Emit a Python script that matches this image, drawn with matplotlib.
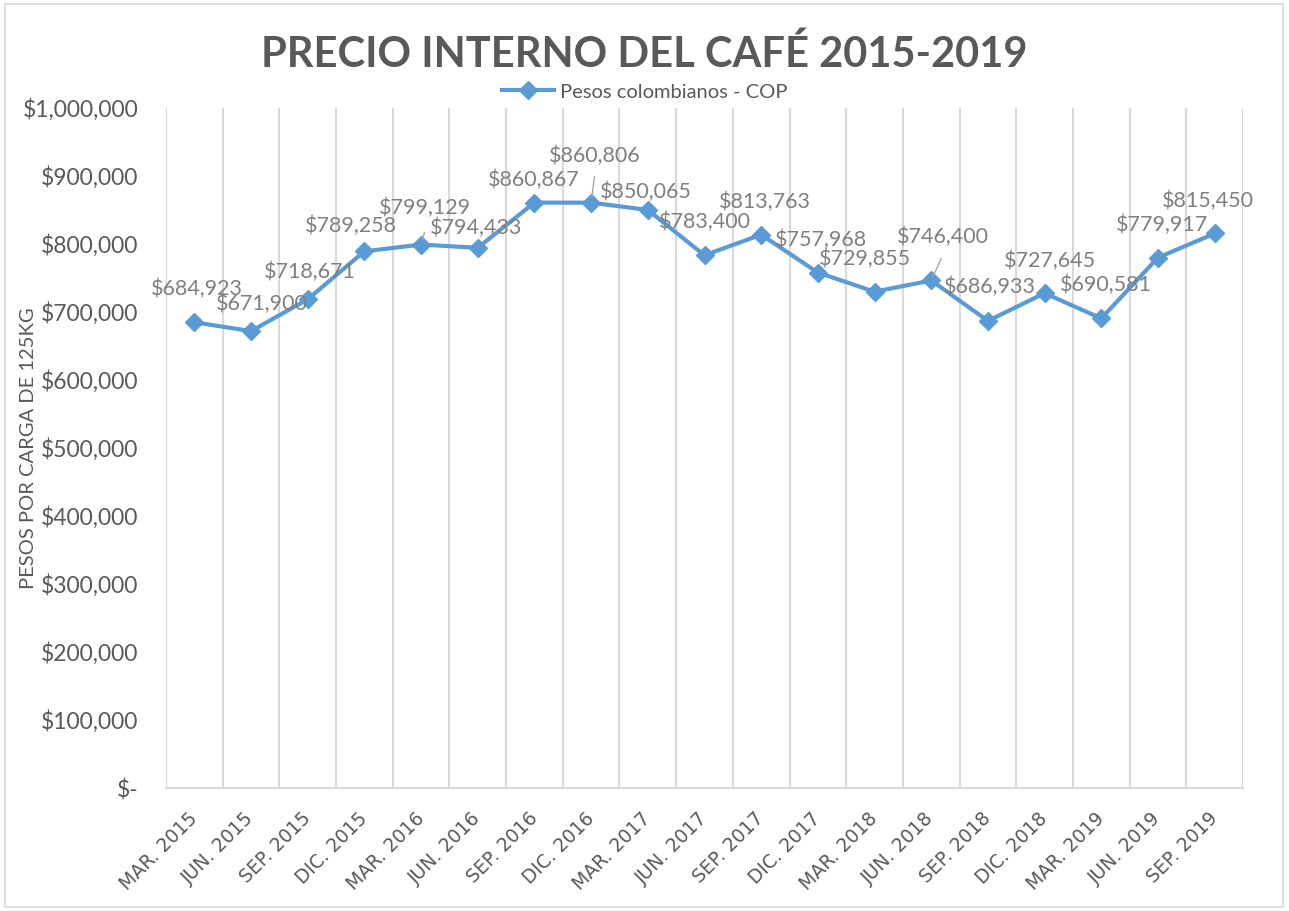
import matplotlib
matplotlib.use("Agg")
import matplotlib.pyplot as plt
from matplotlib.patches import Rectangle

# quarterly domestic coffee price, COP per 125 kg load
periodos = ["MAR. 2015", "JUN. 2015", "SEP. 2015", "DIC. 2015",
            "MAR. 2016", "JUN. 2016", "SEP. 2016", "DIC. 2016",
            "MAR. 2017", "JUN. 2017", "SEP. 2017", "DIC. 2017",
            "MAR. 2018", "JUN. 2018", "SEP. 2018", "DIC. 2018",
            "MAR. 2019", "JUN. 2019", "SEP. 2019"]
precio = [684923, 671900, 718671, 789258, 799129, 794433, 860867, 860806,
          850065, 783400, 813763, 757968, 729855, 746400, 686933, 727645,
          690581, 779917, 815450]
yticks = list(range(0, 1000001, 100000))

# label offsets in pixels (dx, dy upward), picked by eye
offs = [(3, 33), (11, 27), (2, 27), (-13, 25), (4, 37), (-2, 20), (-1, 23),
        (4, 47), (-2, 18), (0, 33), (4, 33), (3, 33), (-10, 33), (12, 44),
        (2, 34), (5, 32), (5, 34), (4, 33), (-7, 33)]
leaders = {4: 12, 7: 26, 13: 22}

azul = "#5B9BD5"
gris = "#595959"
grid = "#D9D9D9"
fam = ["Lato", "DejaVu Sans"]

fig = plt.figure(figsize=(12.89, 9.11), dpi=100)
ax = fig.add_axes([166 / 1289, 1 - 788 / 911, (1243 - 166) / 1289, (788 - 108) / 911])

x = list(range(len(precio)))
ax.plot(x, precio, color=azul, lw=3, marker="D", ms=9.5, zorder=3,
        label="Pesos colombianos - COP")

ax.set_xlim(-0.5, len(precio) - 0.5)
ax.set_ylim(0, 1000000)
ax.set_yticks(yticks)
ax.set_yticklabels(["$-" if v == 0 else "${:,}".format(v) for v in yticks],
                   fontsize=16.5, color=gris, family=fam)
ax.set_xticks(x)
ax.set_xticklabels(periodos, rotation=45, ha="right", va="center",
                   rotation_mode="anchor", fontsize=13.5, color=gris,
                   family=["DejaVu Sans"])
ax.set_xticks([i - 0.5 for i in range(len(precio) + 1)], minor=True)
ax.grid(True, which="minor", axis="x", color=grid, lw=1.5)
ax.tick_params(axis="both", which="both", length=0)
ax.tick_params(axis="y", pad=20)
ax.tick_params(axis="x", pad=20)
for s in ["top", "right", "left"]:
    ax.spines[s].set_visible(False)
ax.spines["bottom"].set_color(grid)
ax.spines["bottom"].set_linewidth(1.5)

for i, v in enumerate(precio):
    dx, dy = offs[i]
    ax.annotate("${:,}".format(v), (i, v), xytext=(dx * 0.72, dy * 0.72),
                textcoords="offset points", ha="center", va="center",
                fontsize=15.5, color="#7F7F7F", family=fam, zorder=4)
    if i in leaders:
        ax.annotate("", (i, v), xytext=(dx * 0.6, leaders[i] * 0.72),
                    textcoords="offset points",
                    arrowprops=dict(arrowstyle="-", color="#A6A6A6", lw=1,
                                    shrinkA=0, shrinkB=4))

ax.set_ylabel("PESOS POR CARGA DE 125KG", fontsize=14.5, color=gris,
              family=fam, va="center")
ax.yaxis.set_label_coords((28 - 166) / 1077, 0.5)

fig.text(0.5, 1 - 54 / 911, "PRECIO INTERNO DEL CAFÉ 2015-2019", ha="center",
         va="center", fontsize=30, fontweight="bold", color=gris, family=fam)
fig.legend(loc="center", bbox_to_anchor=(0.5, 1 - 92 / 911), frameon=False,
           prop={"family": fam, "size": 14.5}, labelcolor=gris, handlelength=2.6,
           handletextpad=0.3)

fig.patches.append(Rectangle((5 / 1289, 4 / 911), 1278 / 1289, 903 / 911,
                             transform=fig.transFigure, fill=False,
                             edgecolor=grid, lw=1.2))

fig.savefig("out.png", dpi=100)
